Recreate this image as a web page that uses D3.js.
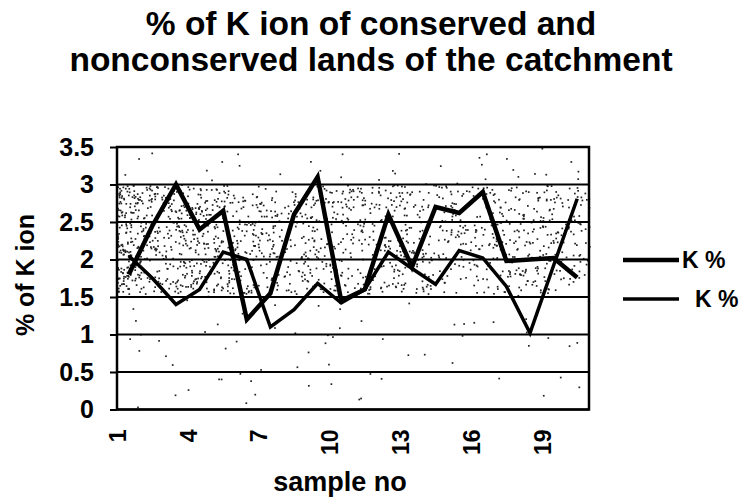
<!DOCTYPE html>
<html>
<head>
<meta charset="utf-8">
<script src="https://cdn.jsdelivr.net/npm/d3@7"></script>
<style>
  html, body { margin: 0; padding: 0; background: #fff; }
  svg { display: block; font-family: Arial, 'Liberation Sans', Helvetica, sans-serif; font-weight: bold; }
</style>
</head>
<body>
<svg id="chart" width="742" height="502"></svg>
<script>
// data
const samples = [1, 2, 3, 4, 5, 6, 7, 8, 9, 10, 11, 12, 13, 14, 15, 16, 17, 18, 19, 20];
const sampleLabels = [1, 4, 7, 10, 13, 16, 19];
const kConserved = [1.8, 2.45, 3.0, 2.4, 2.65, 1.2, 1.55, 2.6, 3.1, 1.45, 1.6, 2.6, 1.9, 2.7, 2.62, 2.9, 1.98, 2.0, 2.02, 1.76];
const kNonconserved = [2.05, 1.75, 1.4, 1.6, 2.1, 2.0, 1.1, 1.33, 1.68, 1.42, 1.6, 2.1, 1.88, 1.67, 2.12, 2.02, 1.64, 1.02, 1.92, 2.81];
const yTicks = [0, 0.5, 1, 1.5, 2, 2.5, 3, 3.5];
const titleLines = ['% of K ion of conserved and', 'nonconserved lands of the catchment'];
const series = [
  { key: 'conserved', label: 'K %', values: kConserved, width: 4.5 },
  { key: 'nonconserved', label: 'K %', values: kNonconserved, width: 3.5 },
];

const svg = d3.select('#chart');
const margin = { left: 117, top: 147, right: 153, bottom: 92.5 };
const width = 742 - margin.left - margin.right;
const height = 502 - margin.top - margin.bottom;

const x = d3.scalePoint().domain(samples).range([0, width]).padding(0.5);
const y = d3.scaleLinear().domain([0, 3.5]).range([height, 0]);

// title
svg
  .append('g')
  .selectAll('text')
  .data(titleLines)
  .join('text')
  .attr('x', 371)
  .attr('y', (d, i) => 35 + i * 36)
  .attr('text-anchor', 'middle')
  .attr('font-size', 33.5)
  .text((d) => d);

const plot = svg.append('g').attr('transform', `translate(${margin.left},${margin.top})`);

// scanned stipple texture (deterministic, decoration only)
let seed = 12345;
const rnd = () => (seed = (seed * 16807) % 2147483647) / 2147483647;
const dots = [];
for (let i = 0; i < 1500; i++) {
  const u = Math.pow(rnd(), 1.4);
  dots.push([u * width, y(1.55 + rnd() * 1.45)]);
}
for (let i = 0; i < 170; i++) {
  dots.push([rnd() * width, y(rnd() * 3.5)]);
}
plot
  .append('g')
  .attr('fill', '#222')
  .selectAll('rect')
  .data(dots)
  .join('rect')
  .attr('x', (d) => d[0])
  .attr('y', (d) => d[1])
  .attr('width', 1.7)
  .attr('height', 1.7);

// gridlines
plot
  .append('g')
  .selectAll('line')
  .data(yTicks)
  .join('line')
  .attr('x1', 0)
  .attr('x2', width)
  .attr('y1', (d) => y(d))
  .attr('y2', (d) => y(d))
  .attr('stroke', '#000')
  .attr('stroke-width', 2);

// y axis
const yAxis = plot
  .append('g')
  .call(d3.axisLeft(y).tickValues(yTicks).tickSize(7).tickPadding(16).tickFormat(d3.format('')));
yAxis.select('.domain').remove();
yAxis.selectAll('line').attr('stroke', '#000').attr('stroke-width', 2);
yAxis.selectAll('text').attr('font-size', 25).attr('fill', '#000');

// x labels, rotated like the Excel original
plot
  .append('g')
  .selectAll('text')
  .data(sampleLabels)
  .join('text')
  .attr('transform', (d) => `translate(${x(d) - 11},${height + 20}) rotate(-90)`)
  .attr('dy', '0.35em')
  .attr('text-anchor', 'end')
  .attr('font-size', 23)
  .text((d) => d);

// lines
const line = d3
  .line()
  .x((d, i) => x(samples[i]))
  .y((d) => y(d));
plot
  .append('g')
  .selectAll('path')
  .data(series)
  .join('path')
  .attr('fill', 'none')
  .attr('stroke', '#000')
  .attr('stroke-width', (d) => d.width)
  .attr('stroke-linejoin', 'miter')
  .attr('d', (d) => line(d.values));

// plot border
plot
  .append('rect')
  .attr('width', width)
  .attr('height', height)
  .attr('fill', 'none')
  .attr('stroke', '#000')
  .attr('stroke-width', 2.5);

// axis titles
svg
  .append('text')
  .attr('transform', 'translate(34,275) rotate(-90)')
  .attr('text-anchor', 'middle')
  .attr('font-size', 25)
  .text('% of K ion');
svg
  .append('text')
  .attr('x', 340)
  .attr('y', 491)
  .attr('text-anchor', 'middle')
  .attr('font-size', 27)
  .text('sample no');

// legend
const legend = svg
  .append('g')
  .selectAll('g')
  .data(series)
  .join('g')
  .attr('transform', (d, i) => `translate(623,${260 + i * 39})`);
legend
  .append('line')
  .attr('x2', 56)
  .attr('stroke', '#000')
  .attr('stroke-width', (d) => d.width);
legend
  .append('text')
  .attr('x', (d, i) => (i === 0 ? 59 : 72))
  .attr('dy', '0.35em')
  .attr('font-size', 23)
  .text((d) => d.label);
</script>
</body>
</html>
